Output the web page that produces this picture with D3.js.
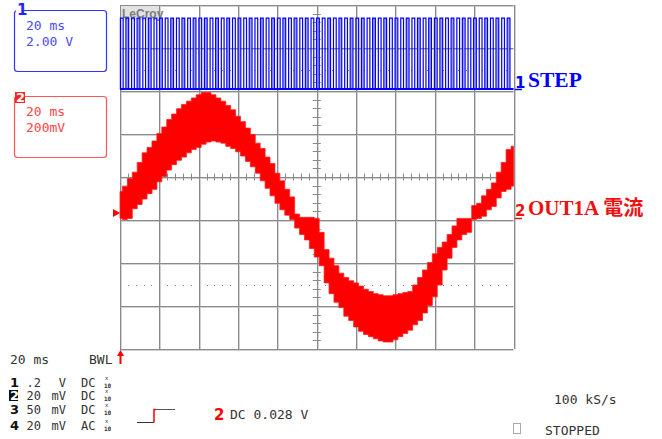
<!DOCTYPE html>
<html>
<head>
<meta charset="utf-8">
<script src="https://cdn.jsdelivr.net/npm/d3@7/dist/d3.min.js"></script>
<style>
  body { margin: 0; background: #fff; }
  svg { display: block; }
</style>
</head>
<body>
<svg class="scope"></svg>
<script>
const width = 662;
const height = 439;

// Data

// time base: 20 ms/div over 10 div
const timeRange = [0, 200];

// channel 1 (STEP): rising edges in ms, low/high level in V, high time in ms
const stepEdges = [0.2, 3.0, 5.9, 8.7, 11.6, 14.4, 17.3, 20.1, 23.0, 25.8,
    28.7, 31.5, 34.4, 37.2, 40.1, 42.9, 45.8, 48.6, 51.5, 54.3,
    57.2, 60.0, 62.9, 65.7, 68.6, 71.4, 74.3, 77.1, 80.0, 82.8,
    85.7, 88.5, 91.4, 94.2, 97.1, 99.9, 102.8, 105.6, 108.5, 111.3,
    114.2, 117.0, 119.9, 122.7, 125.6, 128.4, 131.3, 134.1, 137.0, 139.8,
    142.7, 145.5, 148.4, 151.2, 154.1, 156.9, 159.8, 162.6, 165.5, 168.3,
    171.2, 174.0, 176.9, 179.7, 182.6, 185.4, 188.3, 191.1, 194.0, 196.8];
const stepLevels = [0, 3.3];
const stepHigh = [1.4];

// channel 2 (OUT1A current): top and bottom of the noisy band, mV
const currentTimes = [0, 2.5, 5, 7.5, 10, 12.5, 15, 17.5, 20, 22.5,
    25, 27.5, 30, 32.5, 35, 37.5, 40, 42.5, 45, 47.5,
    50, 52.5, 55, 57.5, 60, 62.5, 65, 67.5, 70, 72.5,
    75, 77.5, 80, 82.5, 85, 87.5, 90, 92.5, 95, 97.5,
    100, 102.5, 105, 107.5, 110, 112.5, 115, 117.5, 120, 122.5,
    125, 127.5, 130, 132.5, 135, 137.5, 140, 142.5, 145, 147.5,
    150, 152.5, 155, 157.5, 160, 162.5, 165, 167.5, 170, 172.5,
    175, 177.5, 180, 182.5, 185, 187.5, 190, 192.5, 195, 197.5, 200];
const currentUpper = [100, 125, 160, 190, 235, 280, 305, 335, 370, 400,
    435, 460, 485, 505, 520, 535, 550, 560, 560, 550,
    535, 520, 500, 480, 450, 425, 395, 365, 325, 300,
    260, 230, 185, 150, 110, 75, -5, -20, -20, -20,
    -25, -90, -170, -210, -245, -280, -300, -315, -325, -340,
    -355, -365, -375, -380, -385, -385, -380, -375, -370, -365,
    -335, -300, -265, -230, -190, -160, -135, -100, -60, -25,
    -25, -25, 35, 45, 80, 110, 140, 190, 235, 295, 310];
const currentLower = [-25, -30, -25, 20, 40, 65, 90, 110, 145, 170,
    200, 225, 245, 260, 280, 295, 305, 320, 330, 335,
    330, 325, 310, 300, 285, 265, 240, 215, 185, 150,
    115, 80, 45, 15, -10, -30, -70, -100, -125, -165,
    -205, -245, -325, -375, -415, -440, -480, -500, -530, -550,
    -565, -575, -585, -595, -600, -600, -590, -575, -560, -545,
    -520, -500, -465, -430, -390, -335, -265, -210, -160, -125,
    -100, -90, -30, -25, -15, 15, 30, 70, 100, 110, 125];

// vertical channel setup shown under the screen
const channelIds = ['1', '2', '3', '4'];
const channelScales = ['.2', '20', '50', '20'];
const channelUnits = ['V', 'mV', 'mV', 'mV'];
const channelCoupling = ['DC', 'DC', 'DC', 'AC'];

const svg = d3.select('.scope')
    .attr('width', width)
    .attr('height', height);

const mono = "'DejaVu Sans Mono', monospace";
const gridLeft = 120;
const gridRight = 513.5;
const gridTop = 5;
const gridBottom = 349;

// Scales

const xScale = d3.scaleLinear().domain(timeRange).range([gridLeft, gridRight]);
const xDiv = d3.scaleLinear().domain([0, 10]).range([gridLeft, gridRight]);
const yDiv = d3.scaleLinear().domain([0, 8]).range([gridTop, gridBottom]);
// 2 V/div, channel 1 ground at 89 px
const yStep = d3.scaleLinear().domain([0, 2]).range([89, 89 - 43]);
// 200 mV/div, channel 2 ground at 213 px
const yCurrent = d3.scaleLinear().domain([0, 200]).range([213, 213 - 43]);

const px = v => Math.round(v) + 0.5;

// Grid

const grid = svg.append('g');
const divX = d3.range(0, 11);
const divY = d3.range(0, 9);

grid.selectAll('.vshade').data(divX).enter().append('line')
    .attr('x1', d => px(xDiv(d)) + 1).attr('x2', d => px(xDiv(d)) + 1)
    .attr('y1', gridTop).attr('y2', gridBottom)
    .attr('stroke', '#d2d2d2');
grid.selectAll('.hshade').data(divY).enter().append('line')
    .attr('x1', gridLeft).attr('x2', gridRight)
    .attr('y1', d => px(yDiv(d)) + 1).attr('y2', d => px(yDiv(d)) + 1)
    .attr('stroke', '#d2d2d2');
grid.selectAll('.vline').data(divX).enter().append('line')
    .attr('x1', d => px(xDiv(d))).attr('x2', d => px(xDiv(d)))
    .attr('y1', gridTop).attr('y2', gridBottom)
    .attr('stroke', '#8a8a8a');
grid.selectAll('.hline').data(divY).enter().append('line')
    .attr('x1', gridLeft).attr('x2', gridRight)
    .attr('y1', d => px(yDiv(d))).attr('y2', d => px(yDiv(d)))
    .attr('stroke', '#8a8a8a');

// minor ticks on the centre lines
const minorX = d3.range(1, 50).filter(k => k % 5 !== 0).map(k => k / 5);
const minorY = d3.range(1, 40).filter(k => k % 5 !== 0).map(k => k / 5);

grid.selectAll('.tx').data(minorX).enter().append('line')
    .attr('x1', d => px(xDiv(d))).attr('x2', d => px(xDiv(d)))
    .attr('y1', yDiv(4) - 3.5).attr('y2', yDiv(4) + 3.5)
    .attr('stroke', '#8a8a8a');
grid.selectAll('.ty').data(minorY).enter().append('line')
    .attr('x1', xDiv(5) - 4).attr('x2', xDiv(5) + 4)
    .attr('y1', d => px(yDiv(d))).attr('y2', d => px(yDiv(d)))
    .attr('stroke', '#8a8a8a');

// dotted rows
[1.5, 6.5].forEach(row => {
    grid.selectAll(null).data(minorX).enter().append('rect')
        .attr('x', d => Math.round(xDiv(d)))
        .attr('y', Math.round(yDiv(row)))
        .attr('width', 1).attr('height', 1)
        .attr('fill', '#8a8a8a');
});

// LeCroy tag
svg.append('rect')
    .attr('x', gridLeft + 1).attr('y', gridTop + 1)
    .attr('width', 38).attr('height', 14)
    .attr('fill', '#e2e2e2');
svg.append('text')
    .attr('x', gridLeft + 2).attr('y', gridTop + 13)
    .attr('font-family', "'Liberation Sans', sans-serif")
    .attr('font-size', 12).attr('font-weight', 'bold')
    .attr('fill', '#7c7c7c')
    .text('LeCroy');

// Channel 2 - current band

const band = currentTimes.map((t, i) => ({t: t, hi: currentUpper[i], lo: currentLower[i]}));

const area = d3.area()
    .x(d => xScale(d.t))
    .y0(d => yCurrent(d.lo))
    .y1(d => yCurrent(d.hi))
    .curve(d3.curveStep);

svg.append('path')
    .datum(band)
    .attr('d', area)
    .attr('fill', '#ff0000')
    .attr('stroke', '#ff2020')
    .attr('stroke-width', 0.8);

// Channel 1 - step pulses

const low = yStep(stepLevels[0]);
const high = yStep(stepLevels[1]);

svg.selectAll('.pulse').data(stepEdges.filter((d, i) => i % 2 === 1)).enter().append('rect')
    .attr('x', d => xScale(d) + 0.5)
    .attr('y', high)
    .attr('width', xScale(stepHigh[0]) - xScale(0) - 1)
    .attr('height', low - high)
    .attr('fill', '#9a9aff');

const stepPoints = [[gridLeft, low]];
stepEdges.forEach(e => {
    const x0 = xScale(e);
    const x1 = xScale(e + stepHigh[0]);
    stepPoints.push([x0, low], [x0, high], [x1, high], [x1, low]);
});
stepPoints.push([gridRight, low]);

svg.append('path')
    .datum(stepPoints)
    .attr('d', d3.line())
    .attr('fill', 'none')
    .attr('stroke', '#0000ff')
    .attr('stroke-width', 1.2);

svg.append('line')
    .attr('x1', gridLeft).attr('x2', gridRight)
    .attr('y1', low).attr('y2', low)
    .attr('stroke', '#0000ff')
    .attr('stroke-width', 2);

// Channel markers

svg.append('path')
    .attr('d', `M113,${yCurrent(0) - 4}L120,${yCurrent(0)}L113,${yCurrent(0) + 4}Z`)
    .attr('fill', '#ff0000');

svg.append('text')
    .attr('x', 515).attr('y', yStep(0) - 1)
    .attr('font-family', "'DejaVu Sans', sans-serif")
    .attr('font-size', 15).attr('font-weight', 'bold')
    .attr('fill', '#0000ff')
    .text('1');
svg.append('line')
    .attr('x1', 515).attr('x2', 522)
    .attr('y1', yStep(0) + 0.5).attr('y2', yStep(0) + 0.5)
    .attr('stroke', '#0000ff').attr('stroke-width', 1.5);
svg.append('text')
    .attr('x', 528).attr('y', 87)
    .attr('font-family', "'Liberation Serif', serif")
    .attr('font-size', 21.5).attr('font-weight', 'bold')
    .attr('fill', '#0000ff')
    .text('STEP');

svg.append('text')
    .attr('x', 515).attr('y', 216)
    .attr('font-family', "'DejaVu Sans', sans-serif")
    .attr('font-size', 15).attr('font-weight', 'bold')
    .attr('fill', '#ee1111')
    .text('2');
svg.append('line')
    .attr('x1', 515).attr('x2', 522)
    .attr('y1', 218.5).attr('y2', 218.5)
    .attr('stroke', '#ee1111').attr('stroke-width', 1.5);
const outLabel = svg.append('text')
    .attr('x', 528).attr('y', 215)
    .attr('font-family', "'Liberation Serif', serif")
    .attr('font-size', 21).attr('font-weight', 'bold')
    .attr('fill', '#ee1111');
outLabel.append('tspan').text('OUT1A ');
outLabel.append('tspan')
    .attr('font-family', "'Noto Sans CJK JP', sans-serif")
    .attr('font-size', 20)
    .text('電流');

// Channel boxes

svg.append('rect')
    .attr('x', 14.5).attr('y', 10.5).attr('width', 92).attr('height', 61).attr('rx', 3)
    .attr('fill', 'none').attr('stroke', '#3333ff').attr('stroke-width', 1.2);
svg.append('rect')
    .attr('x', 16).attr('y', 3).attr('width', 8).attr('height', 12)
    .attr('fill', '#fff');
svg.append('text')
    .attr('x', 17).attr('y', 15)
    .attr('font-family', "'DejaVu Sans', sans-serif")
    .attr('font-size', 15).attr('font-weight', 'bold')
    .attr('fill', '#2222ff')
    .text('1');
svg.selectAll('.box1').data(['20 ms', '2.00 V']).enter().append('text')
    .attr('x', 26).attr('y', (d, i) => 30 + i * 16)
    .attr('font-family', mono).attr('font-size', 13)
    .attr('fill', '#4a4aff')
    .attr('xml:space', 'preserve')
    .text(d => d);

svg.append('rect')
    .attr('x', 14.5).attr('y', 96.5).attr('width', 92).attr('height', 61).attr('rx', 3)
    .attr('fill', 'none').attr('stroke', '#ff5555').attr('stroke-width', 1.2);
svg.append('rect')
    .attr('x', 15).attr('y', 92).attr('width', 10).attr('height', 11)
    .attr('fill', '#ff2222');
svg.append('text')
    .attr('x', 16).attr('y', 102)
    .attr('font-family', "'DejaVu Sans', sans-serif")
    .attr('font-size', 13).attr('font-weight', 'bold')
    .attr('fill', '#fff')
    .text('2');
svg.selectAll('.box2').data(['20 ms', '200mV']).enter().append('text')
    .attr('x', 26).attr('y', (d, i) => 116 + i * 16)
    .attr('font-family', mono).attr('font-size', 13)
    .attr('fill', '#ff4444')
    .attr('xml:space', 'preserve')
    .text(d => d);

// Bottom status

svg.append('path')
    .attr('d', 'M120.5,350L117,356H119.5V364H121.5V356H124Z')
    .attr('fill', '#ff0000');

const status = svg.append('g')
    .attr('font-family', mono).attr('font-size', 13)
    .attr('fill', '#333');

status.append('text').attr('x', 10).attr('y', 364).text('20 ms');
status.append('text').attr('x', 89).attr('y', 364).text('BWL');

const rowY = [387, 400, 414, 430];
channelIds.forEach((c, i) => {
    const row = status.append('g').attr('font-size', 12);
    if (c === '2') {
        row.append('rect')
            .attr('x', 9).attr('y', rowY[i] - 10).attr('width', 9).attr('height', 11)
            .attr('fill', '#111');
    }
    row.append('text')
        .attr('x', 10).attr('y', rowY[i])
        .attr('font-family', "'DejaVu Sans', sans-serif")
        .attr('font-size', 13).attr('font-weight', 'bold')
        .attr('fill', c === '2' ? '#fff' : '#111')
        .text(c);
    row.append('text')
        .attr('x', 41).attr('y', rowY[i])
        .attr('text-anchor', 'end')
        .text(channelScales[i]);
    row.append('text')
        .attr('x', 66).attr('y', rowY[i])
        .attr('text-anchor', 'end')
        .text(channelUnits[i]);
    row.append('text')
        .attr('x', 81).attr('y', rowY[i])
        .text(channelCoupling[i]);
    // x10 probe mark
    row.append('text')
        .attr('x', 105).attr('y', rowY[i] - 7)
        .attr('font-size', 5.5)
        .text('x');
    row.append('text')
        .attr('x', 104).attr('y', rowY[i] + 0.5)
        .attr('font-size', 6).attr('font-weight', 'bold')
        .text('10');
});

// trigger symbol
status.append('path')
    .attr('d', 'M137,422.5H154')
    .attr('stroke', '#333').attr('fill', 'none');
status.append('path')
    .attr('d', 'M154,422.5V409.5H156')
    .attr('stroke', '#ff0000').attr('stroke-width', 1.5).attr('fill', 'none');
status.append('path')
    .attr('d', 'M156,409.5H175')
    .attr('stroke', '#555').attr('fill', 'none');

status.append('text')
    .attr('x', 214).attr('y', 420)
    .attr('font-family', "'DejaVu Sans', sans-serif")
    .attr('font-size', 15).attr('font-weight', 'bold')
    .attr('fill', '#ff0000')
    .text('2');
status.append('text').attr('x', 230).attr('y', 419).text('DC 0.028 V');

status.append('text').attr('x', 554).attr('y', 404).text('100 kS/s');
status.append('rect')
    .attr('x', 513.5).attr('y', 423.5).attr('width', 7).attr('height', 10)
    .attr('fill', 'none').attr('stroke', '#aaa');
status.append('text').attr('x', 545).attr('y', 435).text('STOPPED');
</script>
</body>
</html>
